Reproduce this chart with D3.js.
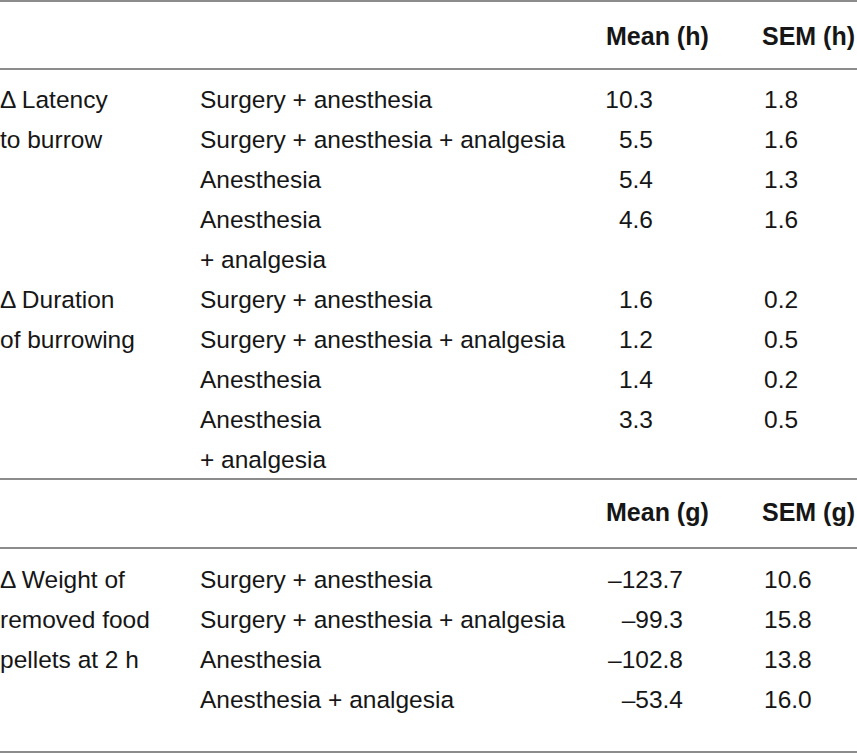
<!DOCTYPE html>
<html>
<head>
<meta charset="utf-8">
<script src="https://cdn.jsdelivr.net/npm/d3@7"></script>
<style>
  html, body { margin: 0; padding: 0; background: #fff; }
  svg text { font-family: "Liberation Sans", Arial, sans-serif; fill: #161616; }
</style>
</head>
<body>
<svg id="table"></svg>
<script>
// table values
const groups = ['Surgery + anesthesia', 'Surgery + anesthesia + analgesia', 'Anesthesia', 'Anesthesia + analgesia']
const latencyMean = [10.3, 5.5, 5.4, 4.6]
const latencySem = [1.8, 1.6, 1.3, 1.6]
const durationMean = [1.6, 1.2, 1.4, 3.3]
const durationSem = [0.2, 0.5, 0.2, 0.5]
const weightMean = [-123.7, -99.3, -102.8, -53.4]
const weightSem = [10.6, 15.8, 13.8, 16.0]
const headersH = ['Mean (h)', 'SEM (h)']
const headersG = ['Mean (g)', 'SEM (g)']
const latencyLabel = ['\u0394 Latency', 'to burrow']
const durationLabel = ['\u0394 Duration', 'of burrowing']
const weightLabel = ['\u0394 Weight of', 'removed food', 'pellets at 2 h']

const width = 857
const height = 754
const fontSize = 24.5
const headSize = 25

const fmt = v => (v < 0 ? '\u2013' : '') + Math.abs(v).toFixed(1)

const svg = d3.select('#table').attr('width', width).attr('height', height)

// columns
const x = d3.scaleOrdinal().domain(['label', 'group', 'meanH', 'meanG', 'sem', 'head1', 'head2'])
    .range([0, 200, 653, 683, 764, 606, 762])

// build the rows of a block (last group wraps to two lines in the upper one)
const buildRows = (label, means, sems, wrap) => {
    const rows = []
    groups.forEach((g, i) => {
        if (wrap && i === 3) {
            rows.push({group: 'Anesthesia', mean: means[i], sem: sems[i]})
            rows.push({group: '+ analgesia'})
        } else {
            rows.push({group: g, mean: means[i], sem: sems[i]})
        }
    })
    label.forEach((l, i) => rows[i].label = l)
    return rows
}

const upper = buildRows(latencyLabel, latencyMean, latencySem, true)
    .concat(buildRows(durationLabel, durationMean, durationSem, true))
const lower = buildRows(weightLabel, weightMean, weightSem, false)

const yUpper = d3.scaleLinear().domain([0, 1]).range([108, 148])
const yLower = d3.scaleLinear().domain([0, 1]).range([588, 628])

// rules
const rules = [1, 69, 479, 548, 752]
svg.selectAll('line.rule').data(rules).enter().append('line')
    .attr('class', 'rule')
    .attr('x1', 0).attr('x2', width)
    .attr('y1', d => d).attr('y2', d => d)
    .attr('stroke', '#8c8c8c').attr('stroke-width', 2)

// headers
const drawHeader = (labels, yBase) => {
    svg.append('g').selectAll('text').data(labels).enter().append('text')
        .attr('x', (d, i) => x(i === 0 ? 'head1' : 'head2'))
        .attr('y', yBase)
        .attr('font-size', headSize)
        .attr('font-weight', 'bold')
        .text(d => d)
}
drawHeader(headersH, 45)
drawHeader(headersG, 521)

const drawBlock = (rows, y, meanCol) => {
    const g = svg.append('g')
    const row = g.selectAll('g.row').data(rows).enter().append('g')
        .attr('class', 'row')
        .attr('transform', (d, i) => `translate(0,${y(i)})`)
        .attr('font-size', fontSize)

    row.filter(d => d.label).append('text')
        .attr('x', x('label')).text(d => d.label)
    row.append('text')
        .attr('x', x('group')).text(d => d.group)
    row.filter(d => d.mean !== undefined).append('text')
        .attr('x', x(meanCol)).attr('text-anchor', 'end').text(d => fmt(d.mean))
    row.filter(d => d.sem !== undefined).append('text')
        .attr('x', x('sem')).text(d => fmt(d.sem))
}

drawBlock(upper, yUpper, 'meanH')
drawBlock(lower, yLower, 'meanG')
</script>
</body>
</html>
